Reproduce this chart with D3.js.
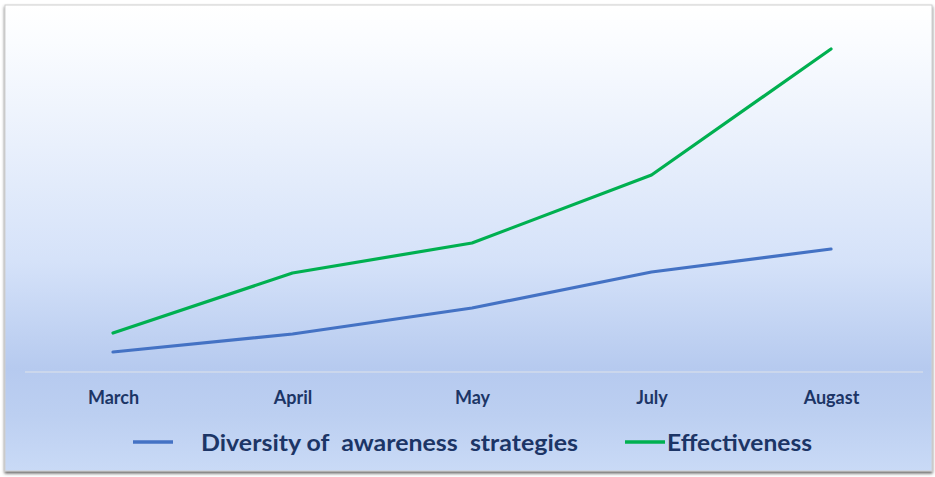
<!DOCTYPE html>
<html><head><meta charset="utf-8">
<script src="https://cdn.jsdelivr.net/npm/d3@7"></script>
<style>body{margin:0;background:#fff}svg{display:block}</style>
</head><body>
<svg id="chart" width="935" height="477"></svg>
<script>
const months = ["March", "April", "May", "July", "Augast"];
const diversity = [1.0, 1.9, 3.2, 5.0, 6.15];
const effectiveness = [1.95, 4.95, 6.45, 9.85, 16.15];
const seriesNames = ["Diversity of  awareness  strategies", "Effectiveness"];
const seriesColors = ["#4472c4", "#00b050"];

const svg = d3.select("#chart");
const defs = svg.append("defs");
const g = defs.append("linearGradient").attr("id","bg").attr("x1",0).attr("y1",0).attr("x2",0).attr("y2",1);
[[0,"#ffffff"],[0.08,"#fafcff"],[0.3,"#e9f0fc"],[0.55,"#d5e2f9"],[0.78,"#b6caef"],[0.88,"#bccff1"],[1,"#c9daf6"]]
  .forEach(([o,c])=>g.append("stop").attr("offset",o).attr("stop-color",c));
const f = defs.append("filter").attr("id","sh").attr("x","-5%").attr("y","-5%").attr("width","110%").attr("height","112%");
f.append("feDropShadow").attr("dx",0).attr("dy",2).attr("stdDeviation",1.5).attr("flood-color","#444").attr("flood-opacity",0.85);

svg.append("rect").attr("x",5).attr("y",5).attr("width",927).attr("height",466)
  .attr("fill","url(#bg)").attr("stroke","#cfcfcf").attr("stroke-width",1).attr("filter","url(#sh)");

const x = d3.scalePoint().domain(months).range([113, 831]);
const y = d3.scaleLinear().domain([0, 17]).range([372, 32]);

// baseline
svg.append("line").attr("x1",25).attr("x2",923).attr("y1",y(0)).attr("y2",y(0))
  .attr("stroke","#dfe3ea").attr("stroke-width",1.2);

// x axis labels
const xAxis = d3.axisBottom(x).tickSize(0).tickPadding(0);
const ax = svg.append("g").attr("transform",`translate(0,${y(0)})`).call(xAxis);
ax.select(".domain").remove();
ax.selectAll("text").attr("y",19).attr("dy","0.71em")
  .style("font-family","Lato, 'Open Sans', sans-serif").style("font-weight","bold")
  .style("font-size","18px").attr("fill","#1c3566");

const line = d3.line().x((d,i)=>x(months[i])).y(d=>y(d));
[diversity, effectiveness].forEach((s,k)=>{
  svg.append("path").datum(s).attr("d",line).attr("fill","none")
    .attr("stroke",seriesColors[k]).attr("stroke-width",3.2)
    .attr("stroke-linejoin","round").attr("stroke-linecap","round");
});

// legend
const leg = [{x:133, tx:201, tw:377}, {x:625, tx:667, tw:145}];
leg.forEach((l,k)=>{
  svg.append("line").attr("x1",l.x).attr("x2",l.x+40).attr("y1",442).attr("y2",442)
    .attr("stroke",seriesColors[k]).attr("stroke-width",3.5);
  svg.append("text").attr("x",l.tx).attr("y",451).text(seriesNames[k])
    .attr("textLength",l.tw).attr("lengthAdjust","spacingAndGlyphs")
    .style("white-space","pre")
    .style("font-family","Lato, 'Open Sans', sans-serif").style("font-weight","bold")
    .style("font-size","23px").attr("fill","#1c3566");
});
</script>
</body></html>
